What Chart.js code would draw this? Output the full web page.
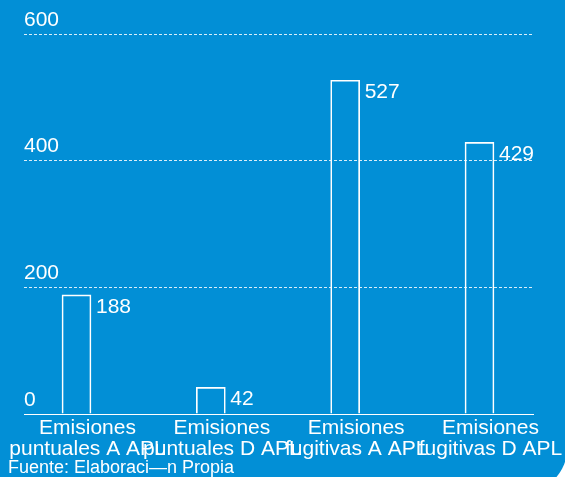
<!DOCTYPE html>
<html>
<head>
<meta charset="utf-8">
<script src="https://cdn.jsdelivr.net/npm/chart.js@4/dist/chart.umd.min.js"></script>
<style>
  html, body { margin: 0; padding: 0; background: #ffffff; }
  #panel {
    position: absolute; left: 0; top: 0;
    width: 568px; height: 495px;
    background: #028fd6;
    border-bottom-right-radius: 50px;
    overflow: hidden;
  }
  #wrap { position: absolute; left: 0; top: 0; width: 565px; height: 477px; }
</style>
</head>
<body>
<div id="panel"><div id="wrap"><canvas id="c" width="565" height="477"></canvas></div></div>
<script>
// Emisiones por categoría
const categories = [
  ['Emisiones', 'puntuales A APL'],
  ['Emisiones', 'puntuales D APL'],
  ['Emisiones', 'fugitivas A APL'],
  ['Emisiones', 'fugitivas D APL']
];
const values = [188, 42, 527, 429];
const yTicks = [0, 200, 400, 600];
const sourceNote = 'Fuente: Elaboraci\u2014n Propia';

const FONT = "'Liberation Sans', Arial, sans-serif";

// Value label to the right of each bar's top edge
const valueLabels = {
  id: 'valueLabels',
  afterDatasetsDraw(chart) {
    const ctx = chart.ctx;
    const meta = chart.getDatasetMeta(0);
    ctx.save();
    ctx.fillStyle = '#ffffff';
    ctx.font = '21px ' + FONT;
    ctx.textAlign = 'left';
    ctx.textBaseline = 'alphabetic';
    meta.data.forEach((bar, i) => {
      const right = bar.x + bar.width / 2;
      ctx.fillText(String(values[i]), right + 5, bar.y + 18);
    });
    ctx.restore();
  }
};

// Source note in the lower left corner
const footer = {
  id: 'footer',
  afterDraw(chart) {
    const ctx = chart.ctx;
    ctx.save();
    ctx.fillStyle = '#ffffff';
    ctx.font = '18px ' + FONT;
    ctx.textAlign = 'left';
    ctx.textBaseline = 'alphabetic';
    ctx.fillText(sourceNote, 8, 473);
    ctx.restore();
  }
};

new Chart(document.getElementById('c'), {
  type: 'bar',
  data: {
    datasets: [{
      data: values.map((v, i) => ({ x: i, y: v })),
      backgroundColor: 'rgba(0,0,0,0)',
      borderColor: '#ffffff',
      borderWidth: 1,
      barThickness: 29
    }]
  },
  options: {
    responsive: false,
    animation: false,
    events: [],
    layout: { padding: { left: 24, right: 32, top: 34, bottom: 0 } },
    plugins: { legend: { display: false }, tooltip: { enabled: false }, title: { display: false } },
    scales: {
      x: {
        type: 'linear',
        offset: false,
        min: -0.3908,
        max: 3.3983,
        grid: { display: false, drawTicks: false, offset: false },
        border: { display: true, color: '#ffffff', width: 1 },
        afterBuildTicks: s => { s.ticks = categories.map((_, i) => ({ value: i })); },
        afterFit: s => { s.height = 63; s.paddingLeft = 0; s.paddingRight = 0; },
        ticks: {
          autoSkip: false,
          maxRotation: 0,
          minRotation: 0,
          padding: 4,
          labelOffset: 11,
          color: '#ffffff',
          font: { family: FONT, size: 21, lineHeight: 1.0 },
          callback: (v) => categories[Math.round(v)]
        }
      },
      y: {
        min: 0,
        max: 600,
        afterBuildTicks: s => { s.ticks = yTicks.map(v => ({ value: v })); },
        afterFit: s => { s.width = 0; },
        grid: { display: true, drawTicks: false, color: 'rgba(255,255,255,0.85)', lineWidth: 1 },
        border: { display: false, dash: [3, 2] },
        ticks: {
          mirror: true,
          padding: 0,
          labelOffset: -14,
          color: '#ffffff',
          font: { family: FONT, size: 21 }
        }
      }
    }
  },
  plugins: [valueLabels, footer]
});
</script>
</body>
</html>
